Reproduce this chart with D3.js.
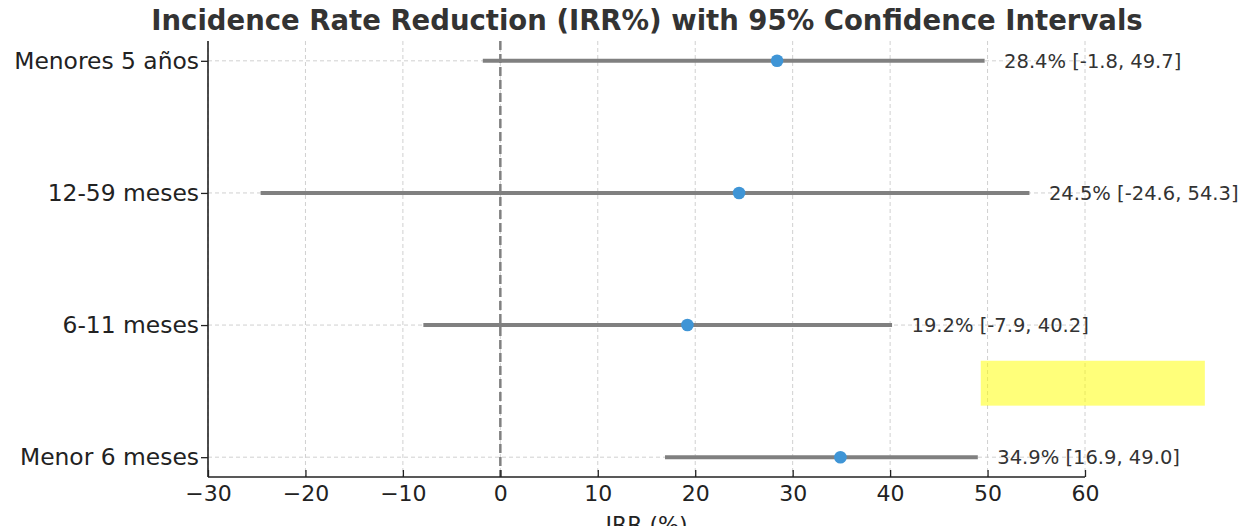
<!DOCTYPE html>
<html><head><meta charset="utf-8">
<script src="https://cdn.jsdelivr.net/npm/d3@7"></script>
<style>body{margin:0;background:#fff}</style>
</head><body><svg id="c" width="1243" height="526"></svg>
<script>
const categories = ["Menor 6 meses", "6-11 meses", "12-59 meses", "Menores 5 años"];
const irr = [34.9, 19.2, 24.5, 28.4];
const lower = [16.9, -7.9, -24.6, -1.8];
const upper = [49.0, 40.2, 54.3, 49.7];
const xTicks = [-30, -20, -10, 0, 10, 20, 30, 40, 50, 60];
const title = "Incidence Rate Reduction (IRR%) with 95% Confidence Intervals";
const xLabel = "IRR (%)";
const highlight = {x0: 49.3, x1: 72.3, y0: 0.39, y1: 0.73};

const svg = d3.select("#c");
const pL = 208, pR = 1085, pT = 41, pB = 477;
const x = d3.scaleLinear().domain([-30, 60]).range([pL, pR]);
const y = d3.scaleLinear().domain([-0.15, 3.15]).range([pB, pT]);
const font = "'DejaVu Sans', sans-serif";

// grid
const g = svg.append("g");
g.selectAll(".vg").data(xTicks).join("line")
  .attr("x1", d => x(d)).attr("x2", d => x(d)).attr("y1", pT).attr("y2", pB)
  .attr("stroke", "#d0d0d0").attr("stroke-width", 1).attr("stroke-dasharray", "4,3");
g.selectAll(".hg").data(categories).join("line")
  .attr("x1", pL).attr("x2", pR).attr("y1", (d, i) => y(i)).attr("y2", (d, i) => y(i))
  .attr("stroke", "#d0d0d0").attr("stroke-width", 1).attr("stroke-dasharray", "4,3");

// zero line
svg.append("line").attr("x1", x(0)).attr("x2", x(0)).attr("y1", pT).attr("y2", pB)
  .attr("stroke", "#808080").attr("stroke-width", 2.5).attr("stroke-dasharray", "9,4");

// CI lines
svg.selectAll(".ci").data(categories).join("line")
  .attr("x1", (d, i) => x(lower[i])).attr("x2", (d, i) => x(upper[i]))
  .attr("y1", (d, i) => y(i)).attr("y2", (d, i) => y(i))
  .attr("stroke", "#808080").attr("stroke-width", 4);

// points
svg.selectAll(".pt").data(categories).join("circle")
  .attr("cx", (d, i) => x(irr[i])).attr("cy", (d, i) => y(i)).attr("r", 6.3)
  .attr("fill", "#3f95d6");

// annotations
svg.selectAll(".ann").data(categories).join("text")
  .attr("x", (d, i) => x(upper[i] + 2)).attr("y", (d, i) => y(i))
  .attr("dy", "0.35em").attr("font-family", font).attr("font-size", 19.5).attr("fill", "#333")
  .text((d, i) => `${irr[i].toFixed(1)}% [${lower[i].toFixed(1)}, ${upper[i].toFixed(1)}]`);

// highlight
svg.append("rect")
  .attr("x", x(highlight.x0)).attr("width", x(highlight.x1) - x(highlight.x0))
  .attr("y", y(highlight.y1)).attr("height", y(highlight.y0) - y(highlight.y1))
  .attr("fill", "#ffff00").attr("fill-opacity", 0.52);

// axes
const xAxis = svg.append("g").attr("transform", `translate(0,${pB})`)
  .call(d3.axisBottom(x).tickValues(xTicks).tickSize(-7).tickPadding(8)
    .tickFormat(d => d < 0 ? "\u2212" + Math.abs(d) : d));
xAxis.select(".domain").attr("stroke", "#222").attr("stroke-width", 1.6).attr("d", `M${pL},0H${pR}`);
xAxis.selectAll(".tick line").attr("stroke", "#222").attr("stroke-width", 1.3);
xAxis.selectAll("text").attr("font-family", font).attr("font-size", 22).attr("fill", "#222");

const yAxis = svg.append("g").attr("transform", `translate(${pL},0)`)
  .call(d3.axisLeft(y).tickValues(d3.range(categories.length)).tickSize(7).tickPadding(2)
    .tickFormat(i => categories[i]));
yAxis.select(".domain").attr("stroke", "#222").attr("stroke-width", 1.6).attr("d", `M0,${pT}V${pB}`);
yAxis.selectAll(".tick line").attr("stroke", "#222").attr("stroke-width", 1.3);
yAxis.selectAll("text").attr("font-family", font).attr("font-size", 23.4).attr("fill", "#222");

// title & label
svg.append("text").attr("x", 647).attr("y", 30).attr("text-anchor", "middle")
  .attr("font-family", font).attr("font-weight", "bold").attr("font-size", 27.5).attr("fill", "#333")
  .text(title);
svg.append("text").attr("x", (pL + pR) / 2).attr("y", 532).attr("text-anchor", "middle")
  .attr("font-family", font).attr("font-size", 22).attr("fill", "#222").text(xLabel);
</script></body></html>
